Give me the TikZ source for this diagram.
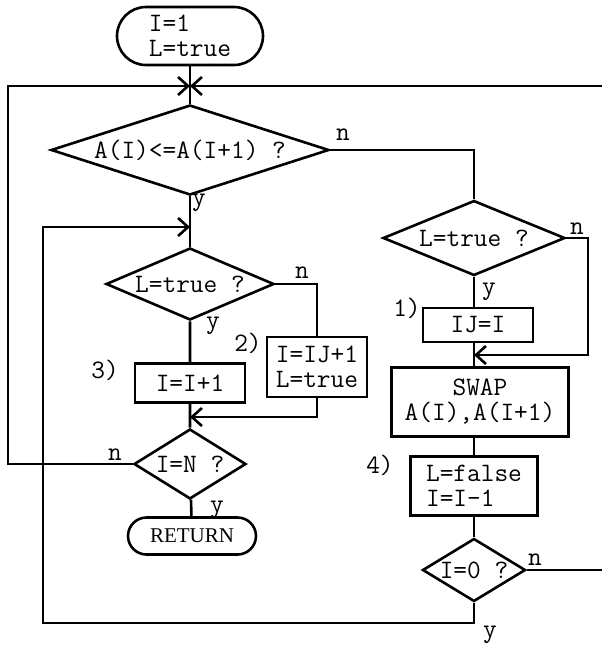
\documentclass[tikz,border=0pt]{standalone}
\usepackage{fontspec}
\setmainfont{Liberation Serif}
\usepackage{tikz}
\usetikzlibrary{arrows.meta, shapes.geometric, shapes.misc, positioning}
\newcommand{\flowfont}{\fontsize{13.3}{12.5}\selectfont\ttfamily}
\tikzset{
  >={Straight Barb[length=5pt,width=9pt]},
  % Blocchi del diagramma di flusso
  block/.style={draw,line width=1.3pt,rectangle,inner sep=2pt,font=\flowfont,align=center},
  block left/.style={block,align=left},
  term/.style={draw,line width=1.3pt,rounded rectangle,inner sep=2pt,font=\flowfont,align=left},
  decide/.style={draw,line width=1.3pt,diamond,inner sep=0pt,font=\flowfont},
  lbl/.style={font=\flowfont,inner sep=0pt},
  % Connessioni
  connect/.style={line width=1.3pt},
  connect arrow/.style={->,line width=1.3pt}
}
\begin{document}
\begin{tikzpicture}[x=0.5pt,y=-0.5pt]
    \useasboundingbox (0,0) rectangle (602,645);
    % colonna sinistra
    \node[term,minimum width=77pt,minimum height=29pt] (start) at (190,36) {I=1\\L=true};
    \node[decide,minimum width=139pt,minimum height=45pt,aspect=3.09] (cmp) at (190,150) {A(I)<=A(I+1) ?};
    \node[decide,minimum width=84pt,minimum height=36pt,aspect=2.33] (testL) at (190,284) {L=true ?};
    \node[block,minimum width=55pt,minimum height=19.5pt] (inc) at (190,383) {I=I+1};
    \node[block left,minimum width=50pt,minimum height=30pt] (reset) at (317,367) {I=IJ+1\\L=true};
    \node[decide,minimum width=56pt,minimum height=35pt,aspect=1.6] (testN) at (190,464) {I=N ?};
    \node[term,font=\fontsize{10.5}{12}\selectfont\rmfamily,minimum width=68pt,minimum height=18.5pt] (ret) at (192,536) {RETURN};
    % colonna destra
    \node[decide,minimum width=91pt,minimum height=37.5pt,aspect=2.43] (testL2) at (474,238) {L=true ?};
    \node[block,minimum width=55pt,minimum height=17pt] (save) at (478,325) {IJ=I};
    \node[block,minimum width=88.5pt,minimum height=34.5pt] (swap) at (480,402) {SWAP\\A(I),A(I+1)};
    \node[block left,minimum width=63.5pt,minimum height=29.5pt] (dec) at (474,486) {L=false\\I=I-1};
    \node[decide,minimum width=51.5pt,minimum height=31.5pt,aspect=1.63] (test0) at (474,570) {I=0 ?};
    % punti di giunzione
    \coordinate (top) at (190,86);
    \coordinate (merge2) at (190,227);
    \coordinate (merge3) at (474,355);
    \coordinate (merge4) at (190,417);
    \coordinate (outerL) at (8,86);
    \coordinate (outerR) at (588,355);
    \coordinate (outerB) at (43,623);
    \coordinate (edgeTop) at (602,86);
    \coordinate (edgeBot) at (602,570);
    % connessioni
    \draw[connect] (start) -- (top) -- (cmp);
    \draw[connect arrow] (edgeTop) -- (top);
    \draw[connect arrow] (testN.west) -| (outerL) -- (top);
    \draw[connect] (cmp) -- (merge2) -- (testL);
    \draw[connect] (testL) -- (inc) -- (testN) -- (ret);
    \draw[connect] (testL.east) -| (reset.north);
    \draw[connect arrow] (reset.south) |- (merge4);
    \draw[connect] (cmp.east) -| (testL2.north);
    \draw[connect] (testL2) -- (testL2 |- save.north);
    \draw[connect arrow] (testL2.east) -| (outerR) -- (merge3);
    \draw[connect] (save.south -| merge3) -- (swap.north -| merge3);
    \draw[connect] (swap.south -| dec) -- (dec) -- (test0);
    \draw[connect] (test0.east) -- (edgeBot);
    \draw[connect arrow] (test0.south) |- (outerB) |- (merge2);
    % etichette
    \node[lbl] (n1) at (343,135) {n};
    \node[lbl] (y1) at (199,203) {y};
    \node[lbl] (n2) at (577,229) {n};
    \node[lbl] (y2) at (489,292) {y};
    \node[lbl] (c1) at (407,308) {1)};
    \node[lbl] (n3) at (302,273) {n};
    \node[lbl] (y3) at (213,326) {y};
    \node[lbl] (c2) at (248,343) {2)};
    \node[lbl] (c3) at (105,370) {3)};
    \node[lbl] (c4) at (380,465) {4)};
    \node[lbl] (n4) at (115,455) {n};
    \node[lbl] (y4) at (217,510) {y};
    \node[lbl] (n5) at (535,560) {n};
    \node[lbl] (y5) at (490,635) {y};
\end{tikzpicture}
\end{document}
